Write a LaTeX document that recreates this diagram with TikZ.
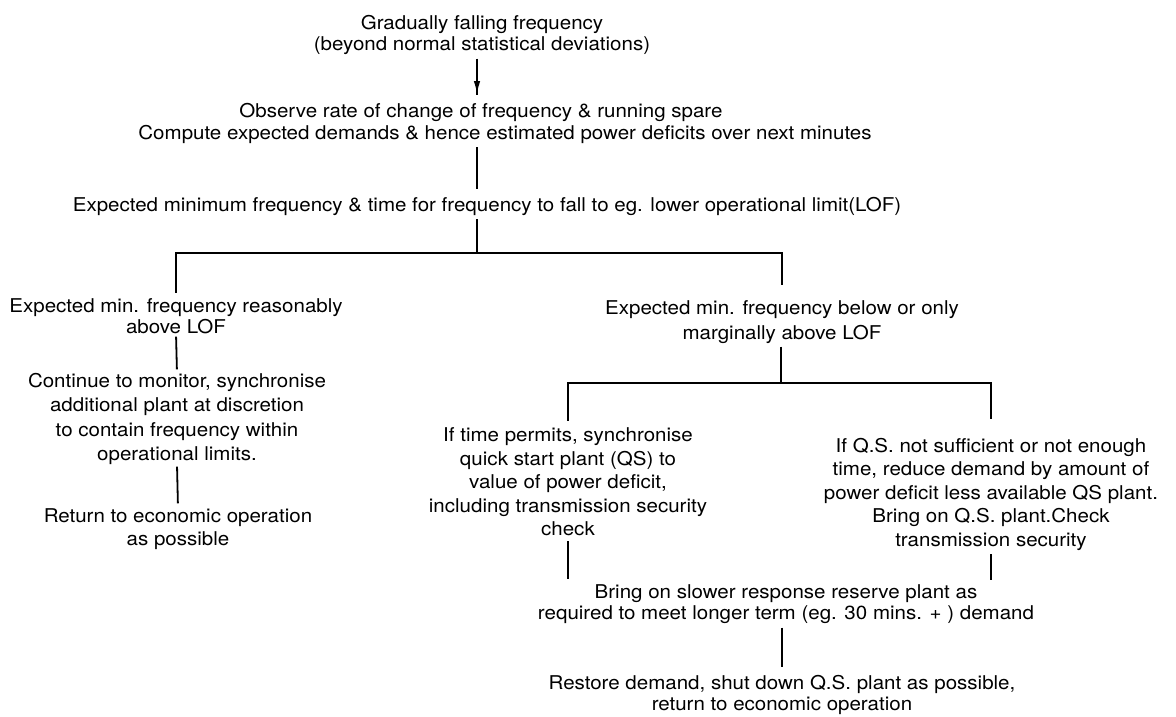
\documentclass[tikz,border=0pt]{standalone}
\usepackage{fontspec}
\setmainfont{TeX Gyre Heros}[FakeStretch=1.08]
\usetikzlibrary{arrows.meta,decorations.markings}

\begin{document}
\begin{tikzpicture}[x=1pt,y=-1pt,
  txt/.style={align=center,inner sep=0pt,outer sep=0pt,
    font=\fontsize{19}{23.5}\selectfont},
  tight/.style={font=\fontsize{19}{21}\selectfont},
  loose/.style={font=\fontsize{19}{25}\selectfont},
  link/.style={line width=1.8pt,shorten <=4pt,shorten >=6pt},
  midarrow/.style={postaction={decorate},
    decoration={markings,mark=at position 0.82 with {\arrow{Latex[length=13pt,width=6.5pt]}}}}]
\useasboundingbox (0,0) rectangle (1176,716);

% main trunk
\node[txt,tight] (start) at (482,35) {Gradually falling frequency\\(beyond normal statistical deviations)};
\node[txt] (observe) at (481,112) {Observe rate of change of frequency \& running spare};
\node[txt] (compute) at (505,134) {Compute expected demands \& hence estimated power deficits over next minutes};
\node[txt] (expect) at (487,206) {Expected minimum frequency \& time for frequency to fall to eg. lower operational limit(LOF)};
\coordinate (split) at (477,253);

% left branch
\node[txt,tight] (above) at (176,316) {Expected min. frequency reasonably\\above LOF};
\node[txt,font=\fontsize{19}{24.3}\selectfont] (monitor) at (177,419) {Continue to monitor, synchronise\\additional plant at discretion\\to contain frequency within\\operational limits.};
\node[txt] (econ) at (178,529) {Return to economic operation\\as possible};

% right branch
\node[txt,loose] (below) at (782,322) {Expected min. frequency below or only\\marginally above LOF};
\coordinate (split2) at (781,383);
\node[txt] (quick) at (568,482) {If time permits, synchronise\\quick start plant (QS) to\\value of power deficit,\\including transmission security\\check};
\node[txt] (reduce) at (991,494) {If Q.S. not sufficient or not enough\\time, reduce demand by amount of\\power deficit less available QS plant.\\Bring on Q.S. plant.Check\\transmission security};
\node[txt,tight] (slower) at (786,604) {Bring on slower response reserve plant as\\required to meet longer term (eg. 30 mins. + ) demand};
\node[txt,tight] (restore) at (782,695) {Restore demand, shut down Q.S. plant as possible,\\return to economic operation};

% connectors
\draw[link,midarrow,shorten >=8pt] (start.south -| split) -- (observe.north -| split);
\draw[link,shorten >=8pt] (compute.south -| split) -- (expect.north -| split);
\draw[link,shorten >=0pt] (expect.south -| split) -- (split);
\draw[link,shorten <=0pt,shorten >=5pt] (split) -| (above.north);
\draw[link,shorten <=0pt,shorten >=15pt] (split) -| (below.north);
\draw[link,shorten <=3pt,shorten >=4pt] (above.south) -- (monitor.north);
\draw[link,shorten <=2pt,shorten >=5pt] (monitor.south) -- (econ.north);
\draw[link,shorten <=3pt,shorten >=0pt] (below.south -| split2) -- (split2);
\draw[link,shorten <=0pt,shorten >=7pt] (split2) -| (quick.north);
\draw[link,shorten <=0pt,shorten >=19pt] (split2) -| (reduce.north);
\draw[link,shorten <=5pt] (quick.south) -- (quick.south |- slower.north);
\draw[link,shorten <=4pt,shorten >=5pt] (reduce.south) -- (reduce.south |- slower.north);
\draw[link,shorten >=8pt] (slower.south -| restore.north) -- (restore.north);
\end{tikzpicture}
\end{document}
